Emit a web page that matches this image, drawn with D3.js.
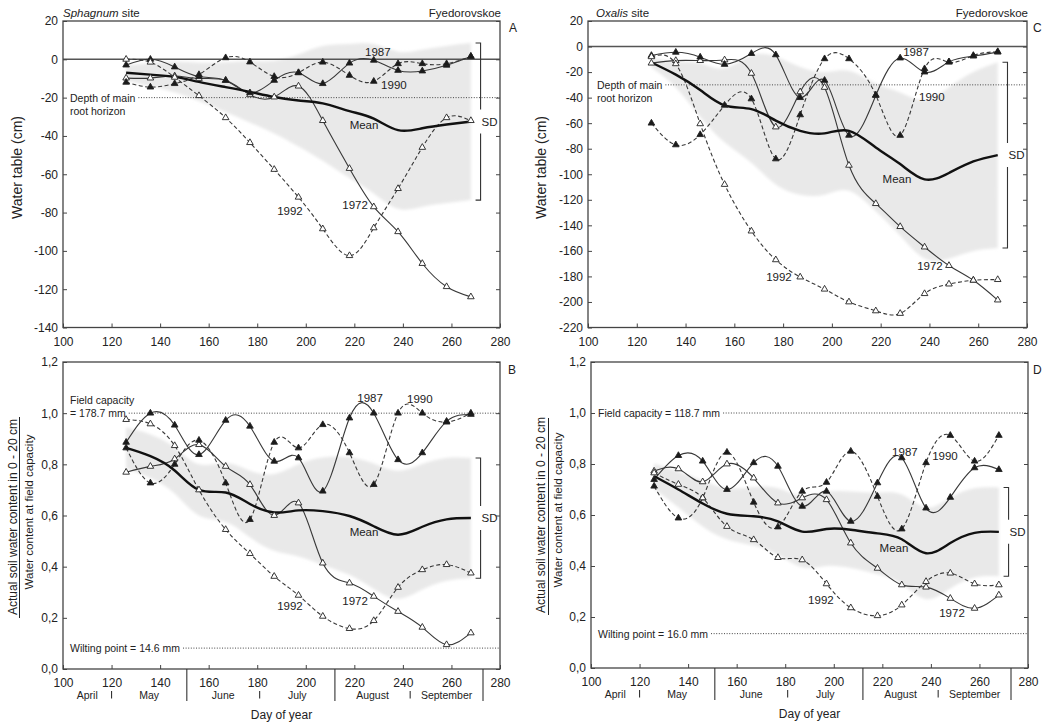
<!DOCTYPE html>
<html>
<head>
<meta charset="utf-8">
<script src="https://cdn.jsdelivr.net/npm/d3@7"></script>
<style>
  body { margin: 0; background: #fff; }
  svg text { font-family: "Liberation Sans", Arial, Helvetica, sans-serif; fill: #222; }
</style>
</head>
<body>
<svg id="chart" width="1050" height="722"></svg>
<script>
// ---- Measurement days (day of year) ----
const days = [126, 136, 146, 156, 167, 177, 187, 197, 207, 218, 228, 238, 248, 258, 268];
const years = ["1972", "1987", "1990", "1992"];

// ---- Sphagnum site: water table (cm) ----
const sphagnumTable1972 = [-9.8, -9.8, -8.7, -10, -11, -18.5, -19.7, -14, -32, -57, -77, -90, -106.6, -118.7, -124];
const sphagnumTable1987 = [-3, 0, -4, -9, -11, -17.5, -11, -7, -12.7, -2, -0.5, -5.8, -6.1, -3.1, 1.5];
const sphagnumTable1990 = [-12, -14.5, -12.7, -8, 0.8, -1.4, -9, -7, -1.5, -8.4, -11.5, -2.3, -2.3, -2.3, 1.5];
const sphagnumTable1992 = [0, -1.5, -9.4, -19, -30.5, -43.5, -57.5, -72, -88.5, -102.5, -88, -67.5, -46, -30.5, -32];
const sphagnumTableMean = [-7, -8, -9.2, -11.8, -14.5, -17, -19.7, -21.5, -23, -27, -31, -37, -36, -34, -32.5];
const sphagnumTableSD = [4, 6, 8, 10, 13, 16, 19, 24, 30, 35, 39, 41, 41, 41, 41];

// ---- Oxalis site: water table (cm) ----
const oxalisTable1972 = [-13, -11, -11, -10.5, -21, -63, -35.5, -32, -93, -123, -141, -157, -171.5, -183, -198.5];
const oxalisTable1987 = [-7, -4.5, -8.3, -14, -5.5, -6.5, -40, -26.5, -69.5, -38.3, -9, -20, -12, -7.5, -4.4];
const oxalisTable1990 = [-60, -77, -69, -46, -41, -88, -53.5, -9.6, -9.6, -38, -69.6, -17.4, -12.2, -7, -4];
const oxalisTable1992 = [-8, -13.5, -60.5, -108, -144.5, -167, -180.5, -190, -200, -207, -209, -193.5, -186, -183, -182.5];
const oxalisTableMean = [-12.5, -22, -34, -46, -49, -58, -66, -68, -66, -79, -92, -104, -99, -90, -85];
const oxalisTableSD = [4, 10, 21, 29, 42, 50, 50, 48, 47, 50, 56, 62, 67, 70, 72.7];

// ---- Sphagnum site: relative soil water content, 0-20 cm ----
const sphagnumMoist1972 = [0.769, 0.792, 0.821, 0.877, 0.792, 0.721, 0.600, 0.649, 0.414, 0.336, 0.284, 0.225, 0.163, 0.095, 0.141];
const sphagnumMoist1987 = [0.886, 1.000, 0.953, 0.838, 0.972, 0.949, 0.812, 0.825, 0.695, 0.981, 1.000, 0.818, 0.845, 0.968, 0.995];
const sphagnumMoist1990 = [0.864, 0.727, 0.800, 0.894, 0.727, 0.584, 0.886, 0.864, 0.955, 0.845, 0.721, 1.000, 1.000, 0.965, 1.000];
const sphagnumMoist1992 = [0.975, 0.958, 0.873, 0.700, 0.545, 0.451, 0.362, 0.288, 0.206, 0.158, 0.189, 0.319, 0.388, 0.408, 0.375];
const sphagnumMoistMean = [0.864, 0.832, 0.776, 0.700, 0.690, 0.645, 0.612, 0.620, 0.617, 0.598, 0.558, 0.525, 0.556, 0.585, 0.590];
const sphagnumMoistSD = [0.08, 0.085, 0.09, 0.10, 0.115, 0.13, 0.15, 0.18, 0.21, 0.23, 0.245, 0.25, 0.245, 0.24, 0.235];

// ---- Oxalis site: relative soil water content, 0-20 cm ----
const oxalisMoist1972 = [0.772, 0.781, 0.730, 0.800, 0.745, 0.647, 0.667, 0.660, 0.490, 0.391, 0.326, 0.317, 0.273, 0.234, 0.286];
const oxalisMoist1987 = [0.739, 0.833, 0.811, 0.700, 0.805, 0.791, 0.634, 0.693, 0.575, 0.726, 0.824, 0.627, 0.669, 0.785, 0.778];
const oxalisMoist1990 = [0.713, 0.588, 0.667, 0.846, 0.650, 0.553, 0.693, 0.728, 0.850, 0.673, 0.545, 0.805, 0.912, 0.811, 0.912];
const oxalisMoist1992 = [0.765, 0.720, 0.667, 0.555, 0.503, 0.433, 0.424, 0.330, 0.236, 0.205, 0.247, 0.339, 0.372, 0.330, 0.326];
const oxalisMoistMean = [0.752, 0.700, 0.645, 0.605, 0.595, 0.575, 0.535, 0.545, 0.542, 0.528, 0.505, 0.450, 0.490, 0.530, 0.534];
const oxalisMoistSD = [0.05, 0.07, 0.09, 0.10, 0.115, 0.13, 0.14, 0.145, 0.15, 0.16, 0.175, 0.18, 0.178, 0.175, 0.174];

// ---- Reference levels ----
const rootDepthSphagnum = -20;
const rootDepthOxalis = -30;
const fieldCapacitySphagnum = 178.7, wiltingSphagnum = 14.6;
const fieldCapacityOxalis = 118.7, wiltingOxalis = 16.0;

// ---- Ticks and calendar ----
const dayTicks = [100, 120, 140, 160, 180, 200, 220, 240, 260, 280];
const tableTicksSphagnum = [20, 0, -20, -40, -60, -80, -100, -120, -140];
const tableTicksOxalis = [20, 0, -20, -40, -60, -80, -100, -120, -140, -160, -180, -200, -220];
const moistTicks = [0, 0.2, 0.4, 0.6, 0.8, 1.0, 1.2];
const monthNames = ["April", "May", "June", "July", "August", "September"];
const monthEnds = [120, 151, 181, 212, 243, 273];

// ---- Drawing ----
const svg = d3.select("#chart");
const ink = "#383838";
const yearStyle = {
  "1972": { dash: null, open: true },
  "1987": { dash: null, open: false },
  "1990": { dash: "4,2.5", open: false },
  "1992": { dash: "4,2.5", open: true }
};
const fmtInt = d => String(d);
const fmtDec = d => d.toFixed(1).replace(".", ",");

// soft edge for the SD bands
const defs = svg.append("defs");
defs.append("filter").attr("id", "soft").attr("x", "-5%").attr("y", "-5%").attr("width", "110%").attr("height", "110%")
  .append("feGaussianBlur").attr("stdDeviation", 1.6);

const panels = [
  {
    letter: "A", x0: 63, x1: 500, y0: 21, y1: 327.5, yDomain: [-140, 20], yTicks: tableTicksSphagnum, fmt: fmtInt,
    series: { "1972": sphagnumTable1972, "1987": sphagnumTable1987, "1990": sphagnumTable1990, "1992": sphagnumTable1992 },
    mean: sphagnumTableMean, sd: sphagnumTableSD, zeroLine: true,
    refs: [{ v: rootDepthSphagnum, lines: ["Depth of main", "root horizon"], anchor: 0, dx: 7 }],
    labels: [{ t: "1987", d: 229.7, v: 3.7 }, { t: "1990", d: 236.3, v: -13.6 }, { t: "Mean", d: 224, v: -34.5 },
             { t: "1992", d: 193.5, v: -79 }, { t: "1972", d: 220.3, v: -75.8 }],
    title: { italic: "Sphagnum", rest: " site", x: 63 }, site: true, letterPos: [509, 32],
    yTitle: { x: 17, y: 167.5 }, months: false
  },
  {
    letter: "C", x0: 588, x1: 1027, y0: 21, y1: 327.5, yDomain: [-220, 20], yTicks: tableTicksOxalis, fmt: fmtInt,
    series: { "1972": oxalisTable1972, "1987": oxalisTable1987, "1990": oxalisTable1990, "1992": oxalisTable1992 },
    mean: oxalisTableMean, sd: oxalisTableSD, zeroLine: true,
    refs: [{ v: rootDepthOxalis, lines: ["Depth of main", "root horizon"], anchor: 0, dx: 9 }],
    labels: [{ t: "1987", d: 234.5, v: -4.1 }, { t: "1990", d: 241, v: -39.4 }, { t: "Mean", d: 226.7, v: -103.5 },
             { t: "1972", d: 240.2, v: -171.6 }, { t: "1992", d: 178.3, v: -180.2 }],
    title: { italic: "Oxalis", rest: " site", x: 596 }, site: true, letterPos: [1033, 32],
    yTitle: { x: 541, y: 167.5 }, months: false
  },
  {
    letter: "B", x0: 63, x1: 500, y0: 362, y1: 669, yDomain: [0, 1.2], yTicks: moistTicks, fmt: fmtDec,
    series: { "1972": sphagnumMoist1972, "1987": sphagnumMoist1987, "1990": sphagnumMoist1990, "1992": sphagnumMoist1992 },
    mean: sphagnumMoistMean, sd: sphagnumMoistSD, zeroLine: false,
    refs: [
      { v: 1.0, lines: ["Field capacity", "= " + fieldCapacitySphagnum.toFixed(1) + " mm"], anchor: 1, dx: 7 },
      { v: wiltingSphagnum / fieldCapacitySphagnum, lines: ["Wilting point = " + wiltingSphagnum.toFixed(1) + " mm"], anchor: 0, dx: 7 }
    ],
    labels: [{ t: "1987", d: 226.5, v: 1.061 }, { t: "1990", d: 247, v: 1.057 }, { t: "Mean", d: 224, v: 0.537 },
             { t: "1992", d: 193.5, v: 0.248 }, { t: "1972", d: 220.3, v: 0.267 }],
    title: null, site: false, letterPos: [508, 374],
    fraction: { num: 12.5, bar: 19.5, den: 28.5, y: 517, y0: 417, y1: 618 }, months: true
  },
  {
    letter: "D", x0: 591, x1: 1028, y0: 362, y1: 668, yDomain: [0, 1.2], yTicks: moistTicks, fmt: fmtDec,
    series: { "1972": oxalisMoist1972, "1987": oxalisMoist1987, "1990": oxalisMoist1990, "1992": oxalisMoist1992 },
    mean: oxalisMoistMean, sd: oxalisMoistSD, zeroLine: false,
    refs: [
      { v: 1.0, lines: ["Field capacity = " + fieldCapacityOxalis.toFixed(1) + " mm"], anchor: 0, dx: 7 },
      { v: wiltingOxalis / fieldCapacityOxalis, lines: ["Wilting point = " + wiltingOxalis.toFixed(1) + " mm"], anchor: 0, dx: 7 }
    ],
    labels: [{ t: "1987", d: 229.3, v: 0.849 }, { t: "1990", d: 245.8, v: 0.83 }, { t: "Mean", d: 224.8, v: 0.471 },
             { t: "1992", d: 194.7, v: 0.267 }, { t: "1972", d: 248.7, v: 0.215 }],
    title: null, site: false, letterPos: [1033, 374],
    fraction: { num: 541, bar: 548.5, den: 557, y: 515, y0: 418, y1: 615 }, months: true
  }
];

function styleAxis(sel) {
  sel.select(".domain").remove();
  sel.selectAll(".tick line").attr("stroke", "#444").attr("stroke-width", 1);
  sel.selectAll("text").style("font-size", "12px").attr("fill", "#222")
    .style("font-family", "'Liberation Sans', Arial, sans-serif");
  sel.attr("font-family", null).attr("font-size", null);
}

function drawPanel(p) {
  const g = svg.append("g");
  const x = d3.scaleLinear().domain([100, 280]).range([p.x0, p.x1]);
  const y = d3.scaleLinear().domain(p.yDomain).range([p.y1, p.y0]);
  const curve = d3.curveNatural;

  // SD band around the mean
  const band = d3.area().curve(curve)
    .x((d, i) => x(days[i]))
    .y0((d, i) => y(p.mean[i] - p.sd[i]))
    .y1((d, i) => y(p.mean[i] + p.sd[i]));
  g.append("path").attr("d", band(days)).attr("fill", "#e9e9e9").attr("filter", "url(#soft)");

  // reference levels with their notes
  p.refs.forEach(r => {
    const yy = y(r.v);
    const tx = p.x0 + r.dx;
    let anchorWidth = 0;
    r.lines.forEach((line, k) => {
      const t = g.append("text")
        .attr("x", tx).attr("y", yy + (k - r.anchor) * 13.2)
        .attr("dominant-baseline", "central")
        .style("font-size", "10.5px").text(line);
      if (k === r.anchor) anchorWidth = t.node().getComputedTextLength();
    });
    g.append("line")
      .attr("x1", tx + anchorWidth + 3).attr("x2", p.x1)
      .attr("y1", yy).attr("y2", yy)
      .attr("stroke", "#444").attr("stroke-width", 1).attr("stroke-dasharray", "1,1.6");
  });

  if (p.zeroLine) {
    g.append("line").attr("x1", p.x0).attr("x2", p.x1).attr("y1", y(0)).attr("y2", y(0))
      .attr("stroke", "#555").attr("stroke-width", 1.4);
  }

  // yearly series
  const line = d3.line().curve(curve).x((v, i) => x(days[i])).y(v => y(v));
  years.forEach(yr => {
    g.append("path").attr("d", line(p.series[yr]))
      .attr("fill", "none").attr("stroke", ink).attr("stroke-width", 1.1)
      .attr("stroke-dasharray", yearStyle[yr].dash);
  });

  // mean
  g.append("path").attr("d", line(p.mean))
    .attr("fill", "none").attr("stroke", "#111").attr("stroke-width", 2.4);

  // markers
  const tri = d3.symbol().type(d3.symbolTriangle).size(19)();
  years.forEach(yr => {
    const st = yearStyle[yr];
    g.append("g").selectAll("path").data(p.series[yr]).join("path")
      .attr("transform", (v, i) => `translate(${x(days[i])},${y(v)})`)
      .attr("d", tri)
      .attr("fill", st.open ? "#fff" : "#1a1a1a")
      .attr("stroke", "#222").attr("stroke-width", 0.9);
  });

  // series labels
  p.labels.forEach(l => {
    g.append("text").attr("x", x(l.d)).attr("y", y(l.v))
      .attr("text-anchor", "middle").attr("dominant-baseline", "central")
      .style("font-size", "11.5px").text(l.t);
  });

  // SD bracket at the end of the season
  const n = days.length - 1;
  const m = p.mean[n], s = p.sd[n];
  const bx = x(272), yt = y(m + s), yb = y(m - s), yc = y(m);
  g.append("path")
    .attr("d", `M${bx - 5},${yt}H${bx}V${yc - 12}M${bx},${yc + 12}V${yb}H${bx - 5}`)
    .attr("fill", "none").attr("stroke", "#333").attr("stroke-width", 1.1);
  g.append("text").attr("x", bx + 1).attr("y", yc).attr("dominant-baseline", "central")
    .style("font-size", "11.5px").text("SD");

  // axes with inward ticks
  g.append("g").attr("transform", `translate(${p.x0},0)`)
    .call(d3.axisLeft(y).tickValues(p.yTicks).tickFormat(p.fmt).tickSizeInner(-4).tickSizeOuter(0).tickPadding(5))
    .call(styleAxis);
  g.append("g").attr("transform", `translate(${p.x1},0)`)
    .call(d3.axisRight(y).tickValues(p.yTicks).tickFormat("").tickSizeInner(-4).tickSizeOuter(0))
    .call(styleAxis);
  g.append("g").attr("transform", `translate(0,${p.y1})`)
    .call(d3.axisBottom(x).tickValues(dayTicks).tickFormat(fmtInt).tickSizeInner(-4).tickSizeOuter(0).tickPadding(9.5))
    .call(styleAxis);

  // frame
  g.append("rect").attr("x", p.x0).attr("y", p.y0)
    .attr("width", p.x1 - p.x0).attr("height", p.y1 - p.y0)
    .attr("fill", "none").attr("stroke", "#444").attr("stroke-width", 1.3);

  // titles
  if (p.title) {
    const t = g.append("text").attr("x", p.title.x).attr("y", p.y0 - 4).style("font-size", "11.5px");
    t.append("tspan").style("font-style", "italic").text(p.title.italic);
    t.append("tspan").text(p.title.rest);
  }
  if (p.site) {
    g.append("text").attr("x", p.x1 + 1).attr("y", p.y0 - 4).attr("text-anchor", "end")
      .style("font-size", "11.5px").text("Fyedorovskoe");
  }
  g.append("text").attr("x", p.letterPos[0]).attr("y", p.letterPos[1])
    .style("font-size", "12px").text(p.letter);

  // y axis title
  if (p.yTitle) {
    g.append("text").attr("transform", `translate(${p.yTitle.x},${p.yTitle.y}) rotate(-90)`)
      .attr("text-anchor", "middle").attr("dominant-baseline", "central")
      .style("font-size", "14px").text("Water table (cm)");
  }
  if (p.fraction) {
    const f = p.fraction;
    g.append("text").attr("transform", `translate(${f.num},${f.y}) rotate(-90)`)
      .attr("text-anchor", "middle").attr("dominant-baseline", "central")
      .style("font-size", "12px").text("Actual soil water content in 0 - 20 cm");
    g.append("line").attr("x1", f.bar).attr("x2", f.bar).attr("y1", f.y0).attr("y2", f.y1)
      .attr("stroke", "#222").attr("stroke-width", 1);
    g.append("text").attr("transform", `translate(${f.den},${f.y - 5}) rotate(-90)`)
      .attr("text-anchor", "middle").attr("dominant-baseline", "central")
      .style("font-size", "11.6px").text("Water content at field capacity");
  }

  // calendar row below the day axis
  if (p.months) {
    const yb0 = p.y1;
    monthEnds.forEach((e, i) => {
      const long = i % 2 === 1;
      g.append("line").attr("x1", x(e)).attr("x2", x(e))
        .attr("y1", long ? yb0 : yb0 + 22).attr("y2", long ? yb0 + 32 : yb0 + 29.5)
        .attr("stroke", "#333").attr("stroke-width", 1.1);
    });
    monthNames.forEach((name, i) => {
      const start = i === 0 ? 100 : monthEnds[i - 1];
      g.append("text").attr("x", x((start + monthEnds[i]) / 2)).attr("y", yb0 + 26)
        .attr("text-anchor", "middle").attr("dominant-baseline", "central")
        .style("font-size", "10.5px").text(name);
    });
    g.append("text").attr("x", (p.x0 + p.x1) / 2).attr("y", yb0 + 46)
      .attr("text-anchor", "middle").attr("dominant-baseline", "central")
      .style("font-size", "12px").text("Day of year");
  }
}

panels.forEach(drawPanel);
</script>
</body>
</html>
